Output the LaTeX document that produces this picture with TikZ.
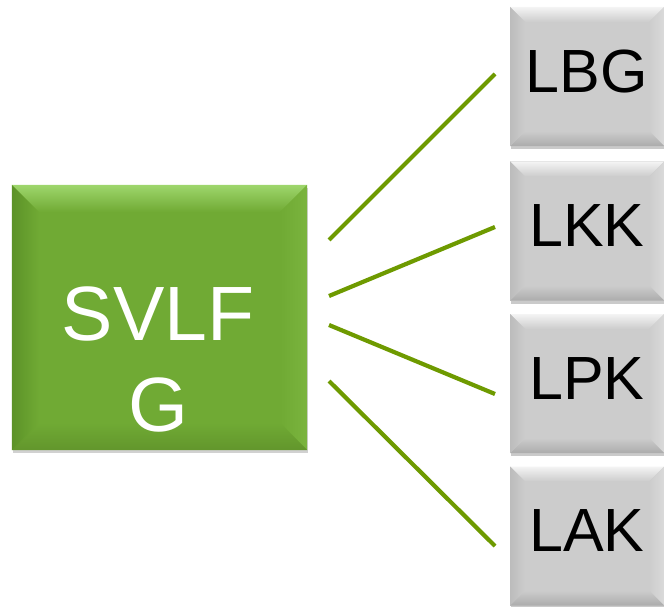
\documentclass[tikz,border=0pt]{standalone}
\usepackage{fontspec}
\setmainfont{Liberation Sans}
\usetikzlibrary{shadows,calc}
\definecolor{gface}{RGB}{112,170,52}
\definecolor{gtop}{RGB}{158,214,108}
\definecolor{gleft}{RGB}{92,146,40}
\definecolor{gright}{RGB}{122,180,62}
\definecolor{gbot}{RGB}{98,150,44}
\definecolor{kface}{RGB}{204,204,204}
\definecolor{ktop}{RGB}{244,244,244}
\definecolor{kleft}{RGB}{188,188,188}
\definecolor{kright}{RGB}{218,218,218}
\definecolor{kbot}{RGB}{172,172,172}
\definecolor{linkc}{RGB}{110,154,0}
\tikzset{
  bevel/.style n args={6}{path picture={
    \coordinate (NW) at (path picture bounding box.north west);
    \coordinate (NE) at (path picture bounding box.north east);
    \coordinate (SW) at (path picture bounding box.south west);
    \coordinate (SE) at (path picture bounding box.south east);
    \shade[top color=#2, bottom color=#6] (NW) -- (NE) -- ([shift={(-#1 bp,-#1 bp)}]NE) -- ([shift={(#1 bp,-#1 bp)}]NW) -- cycle;
    \shade[left color=#6, right color=#3] (NE) -- (SE) -- ([shift={(-#1 bp,#1 bp)}]SE) -- ([shift={(-#1 bp,-#1 bp)}]NE) -- cycle;
    \shade[top color=#6, bottom color=#4] (SE) -- (SW) -- ([shift={(#1 bp,#1 bp)}]SW) -- ([shift={(-#1 bp,#1 bp)}]SE) -- cycle;
    \shade[left color=#5, right color=#6] (SW) -- (NW) -- ([shift={(#1 bp,-#1 bp)}]NW) -- ([shift={(#1 bp,#1 bp)}]SW) -- cycle;
  }},
  mainbox/.style={rectangle, fill=gface, minimum width=295bp, minimum height=265bp, inner sep=0pt,
    bevel={27}{gtop}{gright}{gbot}{gleft}{gface},
    drop shadow={shadow xshift=1bp, shadow yshift=-3bp, opacity=0.3, fill=black!60}},
  subbox/.style={rectangle, fill=kface, minimum width=154bp, minimum height=139bp, inner sep=0pt,
    bevel={15}{ktop}{kright}{kbot}{kleft}{kface},
    drop shadow={shadow xshift=1bp, shadow yshift=-3bp, opacity=0.35, fill=black!60},
    font=\fontsize{61bp}{70bp}\selectfont, text=black, text depth=10bp},
  maintext/.style={text=white, align=center, inner sep=0pt, font=\fontsize{77bp}{91bp}\selectfont},
  link/.style={draw=linkc, line width=4.2bp}
}
\begin{document}
\begin{tikzpicture}[x=1bp,y=-1bp]
\useasboundingbox (0,0) rectangle (664,607);
\node[mainbox] (svlf) at (159.5,317.5) {};
\node[maintext] (svlftext) at (158,359) {SVLF\\G};
\node[subbox] (lbg) at (587,76.5) {LBG};
\node[subbox] (lkk) at (587,231) {LKK};
\node[subbox] (lpk) at (587,383.5) {LPK};
\node[subbox] (lak) at (587,536) {LAK};
\coordinate (s1) at (329,240);
\coordinate (s2) at (329,296);
\coordinate (s3) at (329,325);
\coordinate (s4) at (329,381);
\coordinate (e1) at (495,74);
\coordinate (e2) at (495,227);
\coordinate (e3) at (495,394);
\coordinate (e4) at (495,546);
\draw[link] (s1) -- (e1);
\draw[link] (s2) -- (e2);
\draw[link] (s3) -- (e3);
\draw[link] (s4) -- (e4);
\end{tikzpicture}
\end{document}
